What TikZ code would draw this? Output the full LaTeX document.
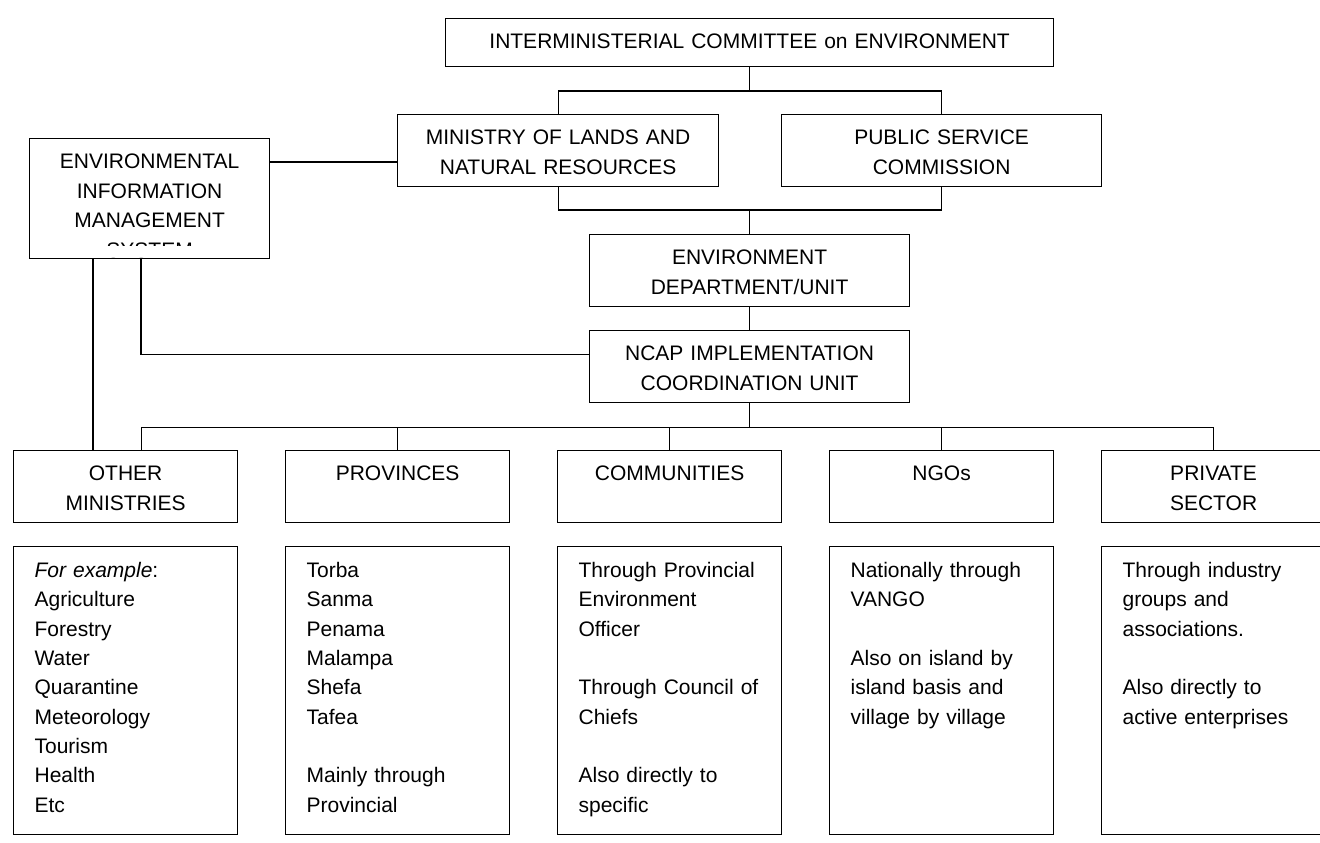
\documentclass[tikz,border=0pt]{standalone}
\usepackage{fontspec}
\setmainfont{Liberation Sans}
\usetikzlibrary{calc}
\begin{document}
\begin{tikzpicture}[x=1pt,y=-1pt,line width=1.2pt,
  box/.style={draw,rectangle,inner sep=0pt,align=center,
    font=\fontsize{21}{29.5}\selectfont,text height=30pt,anchor=north west},
  head/.style={box,text width=224pt,text depth=42pt},
  detail/.style={draw,rectangle,inner xsep=21pt,inner ysep=0pt,align=left,
    text width=182pt,text height=31pt,text depth=257pt,
    font=\fontsize{21}{29.3}\selectfont,anchor=north west}]
\useasboundingbox (0,0) rectangle (1320,843);

% upper boxes
\node[box,text width=608pt,text depth=18pt] (ic) at (445,17.7) {INTERMINISTERIAL COMMITTEE on ENVIRONMENT};
\node[box,text width=321pt,text depth=42pt] (mlnr) at (397,114) {MINISTRY OF LANDS AND\\NATURAL RESOURCES};
\node[box,text width=320pt,text depth=42pt] (psc) at (781,114) {PUBLIC SERVICE\\COMMISSION};
\node[box,text width=240pt,text depth=90pt] (eims) at (29,138) {ENVIRONMENTAL\\INFORMATION\\MANAGEMENT\\SYSTEM};
\fill[white] (29.7,246) rectangle (268.3,257.3);
\node[box,text width=320pt,text depth=42pt] (env) at (589,234) {ENVIRONMENT\\DEPARTMENT/UNIT};
\node[box,text width=320pt,text depth=42pt] (ncap) at (589,330) {NCAP IMPLEMENTATION\\COORDINATION UNIT};

% header boxes
\node[head] (om) at (13,450) {OTHER\\MINISTRIES};
\node[head] (prov) at (285,450) {PROVINCES};
\node[head] (comm) at (557,450) {COMMUNITIES};
\node[head] (ngo) at (829,450) {NGOs};
\node[head] (priv) at (1101,450) {PRIVATE\\SECTOR};

% detail boxes
\node[detail] (omd) at (13,546) {\textit{For example}:\\Agriculture\\Forestry\\Water\\Quarantine\\Meteorology\\Tourism\\Health\\Etc};
\node[detail] (provd) at (285,546) {Torba\\Sanma\\Penama\\Malampa\\Shefa\\Tafea\\~\\Mainly through\\Provincial};
\node[detail] (commd) at (557,546) {Through Provincial\\Environment\\Officer\\~\\Through Council of\\Chiefs\\~\\Also directly to\\specific};
\node[detail] (ngod) at (829,546) {Nationally through\\VANGO\\~\\Also on island by\\island basis and\\village by village};
\node[detail] (privd) at (1101,546) {Through industry\\groups and\\associations.\\~\\Also directly to\\active enterprises};

% connectors: top
\draw (ic.south) -- ++(0,24) coordinate (t1);
\draw (mlnr.north) |- (t1) -| (psc.north);
\draw (env.north) -- ++(0,-24) coordinate (b1);
\draw (mlnr.south) |- (b1) -| (psc.south);
\draw ([yshift=-24pt]eims.north east) coordinate (e1) -- (e1 -| mlnr.west);
\draw (env.south) -- (ncap.north);

% EIMS links
\coordinate (eimsA) at ([xshift=64pt]eims.south west);
\coordinate (eimsB) at ([xshift=112pt]eims.south west);
\draw (eimsA) -- (eimsA |- om.north);
\draw ([yshift=12pt]ncap.west) -| (eimsB);

% lower branches
\coordinate (omB) at ([xshift=16pt]om.north);
\draw (ncap.south) -- ++(0,24) coordinate (nb);
\draw (omB |- nb) -- (priv.north |- nb);
\draw (omB |- nb) -- (omB);
\draw (prov.north |- nb) -- (prov.north);
\draw (comm.north |- nb) -- (comm.north);
\draw (ngo.north |- nb) -- (ngo.north);
\draw (priv.north |- nb) -- (priv.north);
\end{tikzpicture}
\end{document}
